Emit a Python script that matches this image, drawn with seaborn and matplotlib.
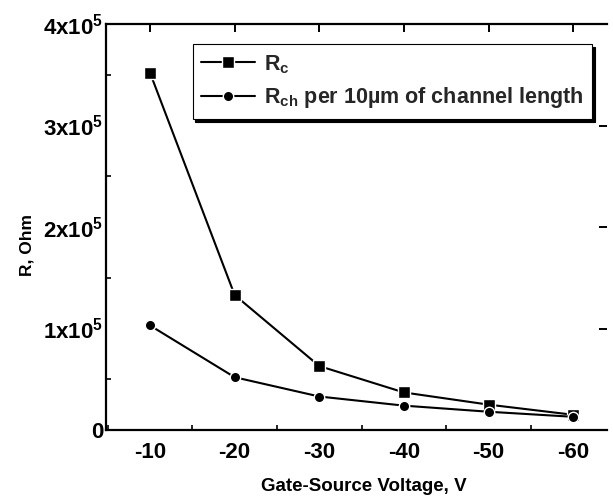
import matplotlib
matplotlib.use("Agg")
import matplotlib.pyplot as plt
import seaborn as sns
import pandas as pd
from matplotlib.ticker import MultipleLocator

# Gate-source voltage steps (V)
voltage = [-10, -20, -30, -40, -50, -60]
# Contact resistance R_c (Ohm)
r_contact = [3.52e5, 1.33e5, 0.63e5, 0.37e5, 0.25e5, 0.15e5]
# Channel resistance per 10 um of channel length (Ohm)
r_channel = [1.03e5, 0.52e5, 0.33e5, 0.24e5, 0.18e5, 0.13e5]

label_rc = r"R$_{\mathbf{c}}$"
label_rch = r"R$_{\mathbf{ch}}$ per 10µm of channel length"

y_ticks = [0, 1e5, 2e5, 3e5, 4e5]
y_tick_labels = ["0", r"1x10$^{\mathbf{5}}$", r"2x10$^{\mathbf{5}}$",
                 r"3x10$^{\mathbf{5}}$", r"4x10$^{\mathbf{5}}$"]
x_ticks = [-10, -20, -30, -40, -50, -60]
x_tick_labels = ["-10", "-20", "-30", "-40", "-50", "-60"]

sns.set_theme(style="white")
plt.rcParams["font.family"] = ["Liberation Sans", "DejaVu Sans"]
plt.rcParams["font.weight"] = "bold"
plt.rcParams["mathtext.fontset"] = "custom"
plt.rcParams["mathtext.rm"] = "Liberation Sans:bold"
plt.rcParams["mathtext.it"] = "Liberation Sans:bold"
plt.rcParams["mathtext.bf"] = "Liberation Sans:bold"

fig = plt.figure(figsize=(6.13, 5.01), dpi=100)
ax = fig.add_axes([106 / 613, 71 / 501, (607 - 106) / 613, (430 - 24) / 501])

df = pd.DataFrame({"V": voltage, "Rc": r_contact, "Rch": r_channel})

sns.lineplot(data=df, x="V", y="Rc", ax=ax, color="black", marker="s",
             markersize=8, markeredgewidth=1, linewidth=1.5, label=label_rc)
sns.lineplot(data=df, x="V", y="Rch", ax=ax, color="black", marker="o",
             markersize=7.5, markeredgewidth=1, linewidth=1.5, label=label_rch)

ax.set_xlim(-4.8, -64)
ax.set_ylim(0, 4e5)

ax.set_xticks(x_ticks)
ax.set_xticklabels(x_tick_labels, fontweight="bold")
ax.set_yticks(y_ticks)
ax.set_yticklabels(y_tick_labels, fontweight="bold")
ax.xaxis.set_minor_locator(MultipleLocator(5))
ax.yaxis.set_minor_locator(MultipleLocator(0.5e5))

for side in ["left", "bottom", "top"]:
    ax.spines[side].set_visible(True)
    ax.spines[side].set_color("black")
    ax.spines[side].set_linewidth(1.6)
ax.spines["right"].set_visible(False)

ax.tick_params(axis="both", which="major", direction="in", length=5.8,
               width=1.4, color="black", labelsize=16, labelcolor="black")
ax.tick_params(axis="both", which="minor", direction="in", length=3.6,
               width=1.2, color="black")
ax.tick_params(axis="x", which="major", top=True, pad=9)
ax.tick_params(axis="x", which="minor", bottom=True, top=False)
ax.tick_params(axis="y", which="major", right=True, pad=2)
ax.tick_params(axis="y", which="minor", left=True, right=False)

ax.set_xlabel("Gate-Source Voltage, V", fontsize=13.5, color="black",
              fontweight="bold")
ax.xaxis.set_label_coords(0.515, -0.118)
ax.set_ylabel("R, Ohm", fontsize=12.5, color="black", fontweight="bold")
ax.yaxis.set_label_coords(-0.142, 0.455)

leg = ax.legend(loc="upper left", bbox_to_anchor=(0.173, 0.95),
                prop={"size": 15.5, "weight": "bold"},
                frameon=True, fancybox=False, edgecolor="black",
                shadow={"color": "black", "alpha": 1.0},
                handlelength=2.5, handletextpad=0.4, labelspacing=0.45,
                borderpad=0.4, borderaxespad=0, markerscale=1.0)
leg.get_frame().set_linewidth(0.8)

fig.savefig("out.png", dpi=100, facecolor="white")
